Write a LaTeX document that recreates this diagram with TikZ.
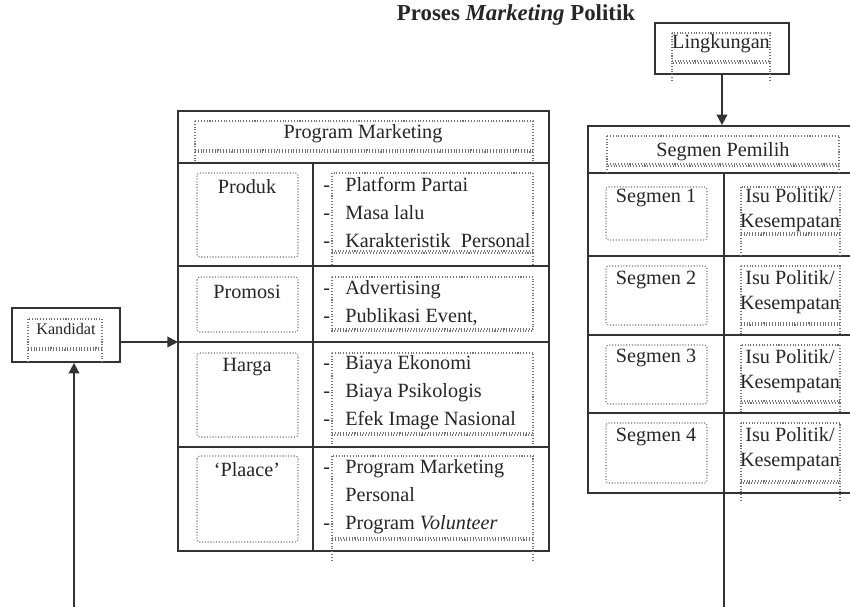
\documentclass[tikz,border=0pt]{standalone}
\usepackage{fontspec}
\setmainfont{Liberation Serif}
\usetikzlibrary{arrows.meta}

\tikzset{
  tbl/.style={draw=black!80, line width=1pt},
  grid/.style={draw=black!80, line width=1pt},
  frame/.style={draw=black!55, densely dotted, line width=0.6pt},
  cellframe/.style={frame, rounded corners=1.5pt},
  link/.style={draw=black!80, line width=1pt},
  tip/.style={-{Triangle[length=6pt,width=6pt]}},
  txt/.style={inner sep=0pt, text=black!85, font=\fontsize{11.5}{16}\selectfont},
  smalltxt/.style={inner sep=0pt, text=black!85, font=\fontsize{9.2}{11}\selectfont},
  isutxt/.style={txt, align=center, font=\fontsize{11.5}{14.2}\selectfont},
  titletxt/.style={inner sep=0pt, text=black!85, font=\fontsize{13}{15}\selectfont\bfseries}
}

% dotted text frame with the overflow marks
\newcommand{\ovframe}[5]{%
  \draw[frame] (#1,#2) rectangle (#3,#4);
  \draw[frame] (#1,#4-2) -- (#3,#4-2);
  \draw[frame] (#1,#4) -- (#1,#5) (#3,#4) -- (#3,#5);}
\newcommand{\li}{\makebox[0.44cm][l]{-}}
\newcommand{\nodash}{\hspace*{0.44cm}}

\begin{document}
\begin{tikzpicture}[x=0.02cm, y=-0.02cm]
  \useasboundingbox[fill=white] (0,0) rectangle (850,607);
  \clip (0,0) rectangle (850,607);

  % title
  \node[titletxt] (title) at (516,15) {Proses \textit{Marketing} Politik};

  % boxes
  \node[tbl, minimum width=2.16cm, minimum height=1.08cm, inner sep=0pt] (kandidat) at (66,335) {};
  \node[tbl, minimum width=2.68cm, minimum height=1.02cm, inner sep=0pt] (lingkungan) at (722,48.5) {};
  \node[tbl, minimum width=7.42cm, minimum height=8.8cm, inner sep=0pt] (program) at (363.5,331) {};
  \node[tbl, minimum width=5.6cm, minimum height=7.34cm, inner sep=0pt] (segmen) at (728,309.5) {};

  % grid of Program Marketing
  \draw[grid] (178,163) -- (549,163);
  \draw[grid] (313,163) -- (313,551);
  \draw[grid] (178,266) -- (549,266);
  \draw[grid] (178,342) -- (549,342);
  \draw[grid] (178,447) -- (549,447);

  % grid of Segmen Pemilih
  \draw[grid] (588,173) -- (850,173);
  \draw[grid] (724,173) -- (724,493);
  \draw[grid] (588,256) -- (850,256);
  \draw[grid] (588,335) -- (850,335);
  \draw[grid] (588,413) -- (850,413);

  % dotted text frames
  \ovframe{28}{319}{102}{350}{362}
  \ovframe{672}{33}{770}{63}{82}
  \ovframe{195}{121}{533}{152}{163}
  \draw[cellframe] (197,173) rectangle (298,257);
  \draw[cellframe] (197,277) rectangle (298,332);
  \draw[cellframe] (197,353) rectangle (298,437);
  \draw[cellframe] (197,456) rectangle (298,542);
  \ovframe{332}{173}{533}{253}{265}
  \ovframe{332}{277}{533}{331}{331}
  \ovframe{332}{353}{533}{435}{445}
  \ovframe{332}{456}{533}{540}{562}
  \ovframe{607}{136}{839}{166}{173}
  \draw[cellframe] (606,187) rectangle (707,240);
  \draw[cellframe] (606,266) rectangle (707,325);
  \draw[cellframe] (606,345) rectangle (707,404);
  \draw[cellframe] (606,423) rectangle (707,483);
  \ovframe{741}{187}{840}{235}{256}
  \ovframe{741}{266}{840}{325}{335}
  \ovframe{741}{345}{840}{403}{413}
  \ovframe{741}{423}{840}{483}{500}

  % texts
  \node[smalltxt] (kandtxt) at (66,329) {Kandidat};
  \node[txt] (lingtxt) at (721,44) {Lingkungan};
  \node[txt] (progtxt) at (363,134) {Program Marketing};
  \node[txt] (produk) at (247,187) {Produk};
  \node[txt] (promosi) at (247,292) {Promosi};
  \node[txt] (harga) at (247,367) {Harga};
  \node[txt] (place) at (247,470) {‘Plaace’};
  \node[txt, align=left, anchor=west] (produklist) at (323,214)
    {\li Platform Partai\strut\\\li Masa lalu\strut\\\li Karakteristik\ \ Personal\strut};
  \node[txt, align=left, anchor=west] (promosilist) at (323,303)
    {\li Advertising\strut\\\li Publikasi Event,\strut};
  \node[txt, align=left, anchor=west] (hargalist) at (323,392)
    {\li Biaya Ekonomi\strut\\\li Biaya Psikologis\strut\\\li Efek Image Nasional\strut};
  \node[txt, align=left, anchor=west] (placelist) at (323,496)
    {\li Program Marketing\strut\\\nodash Personal\strut\\\li Program \textit{Volunteer}\strut};
  \node[txt] (segtxt) at (723,152) {Segmen Pemilih};
  \node[txt] (seg1) at (656,198) {Segmen 1};
  \node[txt] (seg2) at (656,280) {Segmen 2};
  \node[txt] (seg3) at (656,358) {Segmen 3};
  \node[txt] (seg4) at (656,437) {Segmen 4};
  \node[isutxt] (isu1) at (790,210) {Isu Politik/\strut\\Kesempatan\strut};
  \node[isutxt] (isu2) at (790,292) {Isu Politik/\strut\\Kesempatan\strut};
  \node[isutxt] (isu3) at (790,371) {Isu Politik/\strut\\Kesempatan\strut};
  \node[isutxt] (isu4) at (790,449) {Isu Politik/\strut\\Kesempatan\strut};

  % connectors
  \coordinate (hargarow) at (178,342);
  \coordinate (botR) at (724,607);
  \coordinate (botL) at (74,607);
  \draw[link, tip] (kandidat.east |- hargarow) -- (hargarow);
  \draw[link, tip] (lingkungan.south) -- (lingkungan.south |- segmen.north);
  \draw[link] (segmen.south -| botR) -- (botR);
  \draw[link, tip] (botL) -- (kandidat.south -| botL);
\end{tikzpicture}
\end{document}
